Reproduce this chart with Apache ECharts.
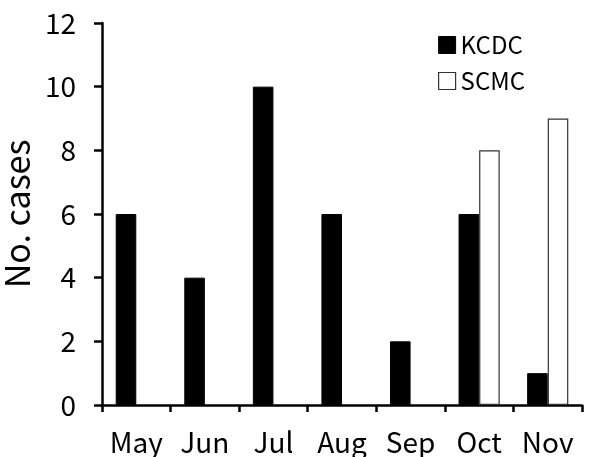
<!DOCTYPE html>
<html><head><meta charset="utf-8">
<script src="https://cdn.jsdelivr.net/npm/echarts@6/dist/echarts.min.js"></script>
<style>html,body{margin:0;padding:0;background:#fff}#c{width:604px;height:457px}</style>
</head><body><div id="c"></div>
<script>
const months = ['May','Jun','Jul','Aug','Sep','Oct','Nov'];
const kcdc = [6, 4, 10, 6, 2, 6, 1];
const scmc = [0, 0, 0, 0, 0, 8, 9];
const yTicks = [0, 2, 4, 6, 8, 10, 12];
const FONT = '"Noto Sans CJK KR", "Noto Sans", sans-serif';
const chart = echarts.init(document.getElementById('c'), null, {renderer:'canvas'});
chart.setOption({
  animation: false,
  textStyle: {fontFamily: FONT},
  grid: {left: 102, right: 22, top: 23, bottom: 52, containLabel: false, outerBoundsMode: 'none'},
  legend: {
    orient: 'vertical', left: 433, top: 28, itemWidth: 17, itemHeight: 17, itemGap: 12,
    icon: 'rect',
    textStyle: {fontSize: 24, color: '#000', fontFamily: FONT},
    data: [
      {name: 'KCDC', itemStyle: {color: '#000', borderColor: '#000', borderWidth: 1}},
      {name: 'SCMC', itemStyle: {color: '#fff', borderColor: '#333', borderWidth: 1.2}}
    ]
  },
  xAxis: {
    type: 'category', data: months,
    axisLine: {lineStyle: {color: '#000', width: 2.5}},
    axisTick: {show: true, inside: false, length: 7, lineStyle: {color: '#000', width: 2.5}},
    axisLabel: {fontSize: 28, color: '#000', margin: 23, interval: 0, fontFamily: FONT}
  },
  yAxis: {
    type: 'value', min: yTicks[0], max: yTicks[yTicks.length-1], interval: 2,
    name: 'No. cases', nameLocation: 'middle', nameGap: 62,
    nameTextStyle: {fontSize: 34, color: '#000', fontFamily: FONT},
    axisLine: {show: true, lineStyle: {color: '#000', width: 2.5}},
    axisTick: {show: true, inside: false, length: 8, lineStyle: {color: '#000', width: 2.5}},
    splitLine: {show: false},
    axisLabel: {fontSize: 28, color: '#000', margin: 26, fontFamily: FONT}
  },
  series: [
    {name: 'KCDC', type: 'bar', data: kcdc, barGap: '0%', barCategoryGap: '40%',
     itemStyle: {color: '#000', borderColor: '#000', borderWidth: 1}},
    {name: 'SCMC', type: 'bar', data: scmc.map(v => v === 0 ? null : v),
     itemStyle: {color: '#fff', borderColor: '#333', borderWidth: 1.2}}
  ]
});
</script></body></html>
